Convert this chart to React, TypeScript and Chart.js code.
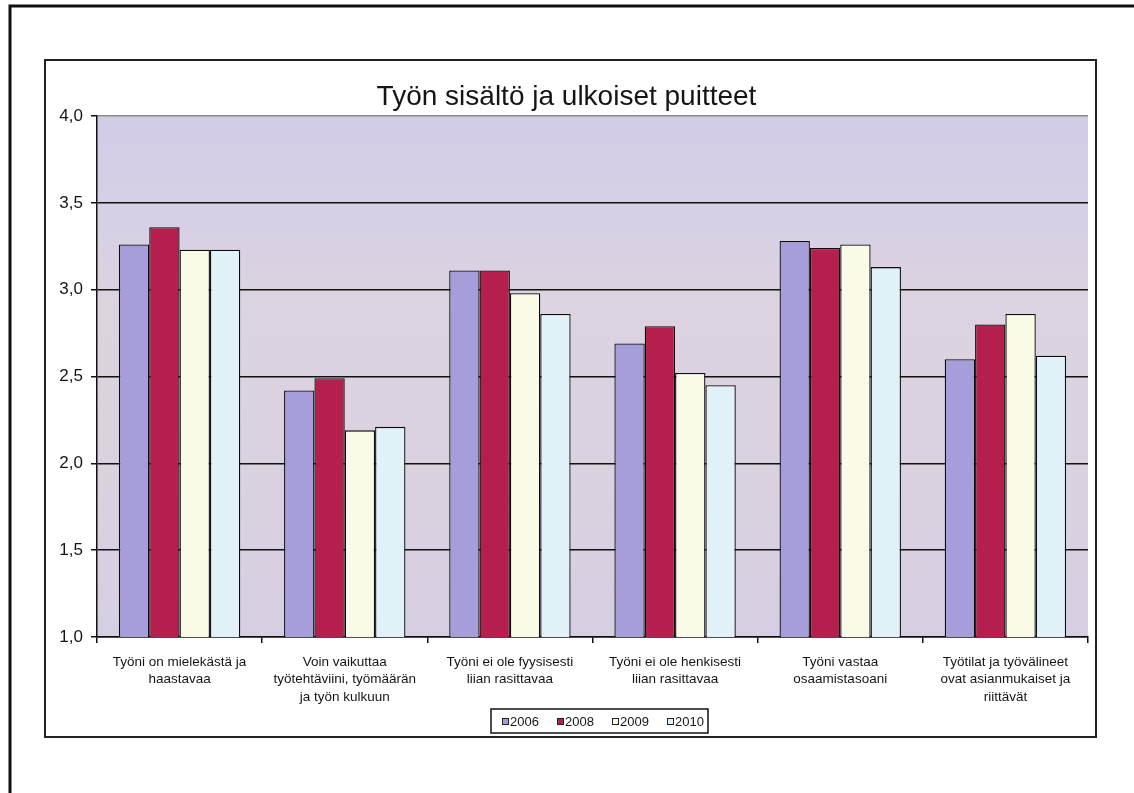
import React, { useEffect, useRef } from "react";
import { Chart, registerables } from "chart.js";

Chart.register(...registerables);

// Survey statements (x categories), split into display lines
const categories: string[][] = [
  ["Työni on mielekästä ja", "haastavaa"],
  ["Voin vaikuttaa", "työtehtäviini, työmäärän", "ja työn kulkuun"],
  ["Työni ei ole fyysisesti", "liian rasittavaa"],
  ["Työni ei ole henkisesti", "liian rasittavaa"],
  ["Työni vastaa", "osaamistasoani"],
  ["Työtilat ja työvälineet", "ovat asianmukaiset ja", "riittävät"],
];

// Series (survey years)
const seriesLabels = ["2006", "2008", "2009", "2010"];
const values2006 = [3.26, 2.42, 3.11, 2.69, 3.28, 2.6];
const values2008 = [3.36, 2.49, 3.11, 2.79, 3.24, 2.8];
const values2009 = [3.23, 2.19, 2.98, 2.52, 3.26, 2.86];
const values2010 = [3.23, 2.21, 2.86, 2.45, 3.13, 2.62];
const seriesValues = [values2006, values2008, values2009, values2010];
const seriesColors = ["#a69ddb", "#b41f4d", "#fafbe6", "#e0f1f8"];

// Value axis
const yMin = 1;
const yMax = 4;
const yStep = 0.5;

const titleText = "Työn sisältö ja ulkoiset puitteet";
const FONT = "'Liberation Sans', Arial, sans-serif";
const INK = "#151515";

// Page frame, chart border and the plot-area backdrop
const framePlugin = {
  id: "pageFrames",
  beforeDraw(chart: any) {
    const { ctx, chartArea: a } = chart;
    ctx.save();
    ctx.fillStyle = "#ffffff";
    ctx.fillRect(0, 0, chart.width, chart.height);

    ctx.strokeStyle = "#111";
    ctx.lineWidth = 3;
    ctx.beginPath();
    ctx.moveTo(10, chart.height);
    ctx.lineTo(10, 6);
    ctx.lineTo(chart.width, 6);
    ctx.stroke();

    ctx.lineWidth = 2;
    ctx.strokeStyle = "#222";
    ctx.strokeRect(45, 60, 1051, 677);

    const g = ctx.createLinearGradient(0, a.top, 0, a.bottom);
    g.addColorStop(0, "#d3cce7");
    g.addColorStop(0.18, "#d6cfe5");
    g.addColorStop(0.35, "#dcd3e0");
    g.addColorStop(0.65, "#dbd2df");
    g.addColorStop(1, "#d6cee2");
    ctx.fillStyle = g;
    ctx.fillRect(a.left, a.top, a.right - a.left, a.bottom - a.top);
    ctx.restore();
  },
};

// Boxed legend below the category labels
const boxedLegendPlugin = {
  id: "boxedLegend",
  afterDraw(chart: any) {
    const { ctx } = chart;
    const boxL = 491;
    const boxT = 709;
    const boxW = 217;
    const boxH = 24;
    const cy = boxT + boxH / 2;
    ctx.save();
    ctx.lineWidth = 1.5;
    ctx.strokeStyle = "#111";
    ctx.strokeRect(boxL, boxT, boxW, boxH);
    ctx.font = `13px ${FONT}`;
    ctx.textBaseline = "middle";
    ctx.textAlign = "left";
    chart.data.datasets.forEach((ds: any, i: number) => {
      const x = boxL + 11 + i * 55;
      ctx.fillStyle = ds.backgroundColor;
      ctx.fillRect(x, cy - 3, 6, 6);
      ctx.lineWidth = 1;
      ctx.strokeStyle = "#222";
      ctx.strokeRect(x + 0.5, cy - 2.5, 6, 6);
      ctx.fillStyle = INK;
      ctx.fillText(ds.label, x + 8, cy + 1);
    });
    ctx.restore();
  },
};

export default function App() {
  const canvasRef = useRef<HTMLCanvasElement | null>(null);

  useEffect(() => {
    const canvas = canvasRef.current;
    if (!canvas) return;
    const chart = new Chart(canvas, {
      type: "bar",
      data: {
        labels: categories,
        datasets: seriesLabels.map((label, i) => ({
          label,
          data: seriesValues[i],
          backgroundColor: seriesColors[i],
          borderColor: "#0d0d0d",
          borderWidth: 1.3,
          borderSkipped: false,
          categoryPercentage: 0.735,
          barPercentage: 1.0,
        })),
      },
      options: {
        responsive: false,
        animation: false,
        devicePixelRatio: 1,
        layout: { padding: { top: 60, left: 45, right: 46, bottom: 56 } },
        plugins: {
          legend: { display: false },
          tooltip: { enabled: false },
          title: {
            display: true,
            text: titleText,
            color: INK,
            font: { family: FONT, size: 28, weight: "normal" },
            padding: { top: 20, bottom: 2.4 },
          },
        },
        scales: {
          x: {
            afterFit: (scale: any) => {
              scale.height = 100;
            },
            grid: {
              offset: true,
              drawOnChartArea: false,
              drawTicks: true,
              tickLength: 6,
              tickColor: "#111",
              lineWidth: 1.5,
            },
            border: { display: true, color: "#111", width: 1.5 },
            ticks: {
              color: INK,
              padding: 11,
              maxRotation: 0,
              autoSkip: false,
              font: { family: FONT, size: 13.5, lineHeight: 1.27 },
            },
          },
          y: {
            min: yMin,
            max: yMax,
            afterFit: (scale: any) => {
              scale.width = 52;
            },
            grid: {
              color: (c: any) => (c.tick && c.tick.value === yMax ? "#8c8c8c" : "#111"),
              lineWidth: 1.5,
              drawTicks: true,
              tickLength: 6,
              tickColor: "#111",
            },
            border: { display: true, color: "#111", width: 1.5 },
            ticks: {
              stepSize: yStep,
              color: INK,
              padding: 8,
              font: { family: FONT, size: 17 },
              callback: (v: any) => Number(v).toFixed(1).replace(".", ","),
            },
          },
        },
      },
      plugins: [framePlugin, boxedLegendPlugin],
    } as any);
    return () => chart.destroy();
  }, []);

  return (
    <div
      style={{
        position: "fixed",
        left: 0,
        top: 0,
        width: 1134,
        height: 793,
        background: "#fff",
      }}
    >
      <canvas ref={canvasRef} width={1134} height={793} />
    </div>
  );
}
